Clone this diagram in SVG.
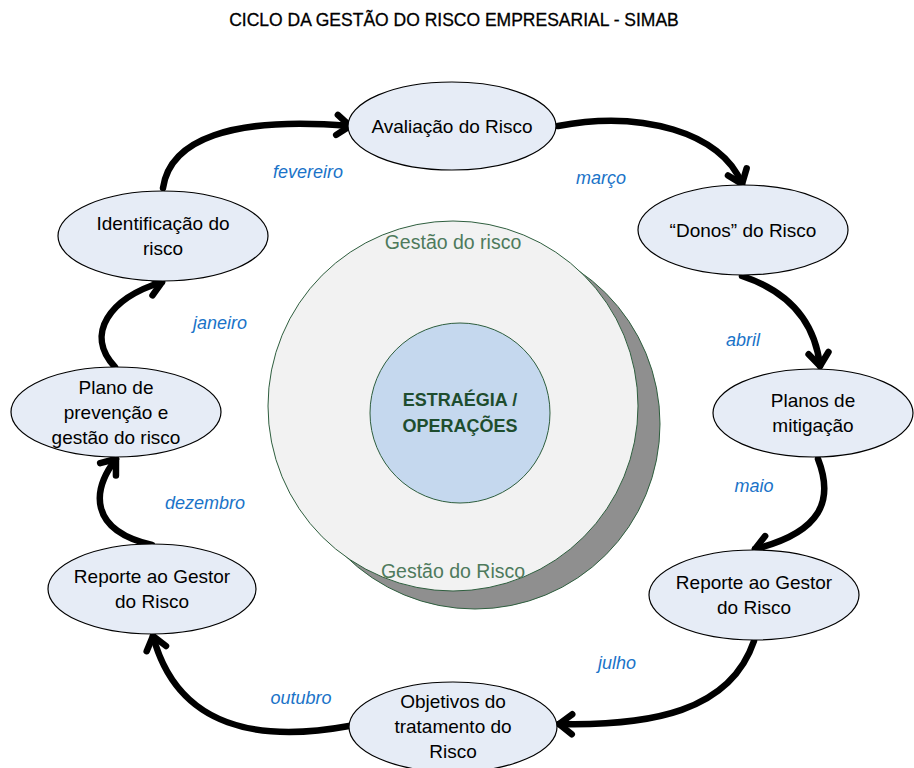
<svg xmlns="http://www.w3.org/2000/svg" width="914" height="768" viewBox="0 0 914 768">
<style>
.node ellipse{fill:#E6ECF6;stroke:#000;stroke-width:1.2}
.node text{font-family:"Liberation Sans",Arial,sans-serif;font-size:19px;fill:#000;text-anchor:middle}
.month{font-family:"Liberation Sans",Arial,sans-serif;font-size:18px;font-style:italic;fill:#1A73C8;text-anchor:middle}
.conn path{fill:none;stroke:#000;stroke-width:6.5;stroke-linecap:round;marker-end:url(#arrow)}
.ring{font-family:"Liberation Sans",Arial,sans-serif;font-size:19.5px;fill:#4E7A5C;text-anchor:middle}
</style>
<defs>
<marker id="arrow" markerUnits="userSpaceOnUse" viewBox="-20 -14 26 28" refX="0" refY="0" markerWidth="26" markerHeight="28" orient="auto">
<path d="M-13,-10 L0,0 L-13,10" fill="none" stroke="#000" stroke-width="6.5" stroke-linecap="round" stroke-linejoin="round"/>
</marker>
</defs>
<rect width="914" height="768" fill="#fff"/>
<text x="454" y="26" font-family="Liberation Sans,Arial,sans-serif" font-size="17.5" text-anchor="middle" fill="#000" stroke="#000" stroke-width="0.3">CICLO DA GESTÃO DO RISCO EMPRESARIAL - SIMAB</text>

<g id="center">
<circle cx="475" cy="424" r="185" fill="#8F8F8F" stroke="#2E5E3E" stroke-width="1"/>
<circle cx="453" cy="406" r="185" fill="#F2F2F2" stroke="#2E5E3E" stroke-width="1"/>
<text class="ring" x="453" y="249">Gestão do risco</text>
<text class="ring" x="453" y="578">Gestão do Risco</text>
<circle cx="460" cy="413" r="90" fill="#C5D8EE" stroke="#2E5E3E" stroke-width="1"/>
<text x="460" y="406" font-family="Liberation Sans,Arial,sans-serif" font-size="18" font-weight="bold" fill="#1E4D2E" text-anchor="middle">ESTRAÉGIA /</text>
<text x="460" y="432" font-family="Liberation Sans,Arial,sans-serif" font-size="18" font-weight="bold" fill="#1E4D2E" text-anchor="middle">OPERAÇÕES</text>
</g>

<g class="conn" id="connectors">
<path d="M163,188 C170,140 230,116 350,126"/>
<path d="M558,126 C640,110 722,132 742,184"/>
<path d="M742,276 C790,292 815,322 820,366"/>
<path d="M818,459 C834,500 822,532 755,549"/>
<path d="M754,641 C730,712 650,726 559,724"/>
<path d="M349,726 C262,742 178,730 153,636"/>
<path d="M152,545 C88,530 92,490 116,459"/>
<path d="M115,367 C84,334 110,298 162,282"/>
</g>

<g class="node" id="n-avaliacao"><ellipse cx="452" cy="126" rx="104" ry="44"/><text x="452" y="133">Avaliação do Risco</text></g>
<g class="node" id="n-donos"><ellipse cx="743" cy="230" rx="105" ry="45"/><text x="743" y="237">“Donos” do Risco</text></g>
<g class="node" id="n-planos"><ellipse cx="813" cy="413" rx="100" ry="44"/><text x="813" y="407">Planos de</text><text x="813" y="432">mitigação</text></g>
<g class="node" id="n-reporte-dir"><ellipse cx="754" cy="595" rx="105" ry="45"/><text x="754" y="589">Reporte ao Gestor</text><text x="754" y="614">do Risco</text></g>
<g class="node" id="n-objetivos"><ellipse cx="453" cy="727" rx="104" ry="45"/><text x="453" y="708">Objetivos do</text><text x="453" y="733">tratamento do</text><text x="453" y="758">Risco</text></g>
<g class="node" id="n-reporte-esq"><ellipse cx="152" cy="589" rx="104" ry="45"/><text x="152" y="583">Reporte ao Gestor</text><text x="152" y="608">do Risco</text></g>
<g class="node" id="n-plano"><ellipse cx="116" cy="412" rx="105" ry="45"/><text x="116" y="394">Plano de</text><text x="116" y="419">prevenção e</text><text x="116" y="444">gestão do risco</text></g>
<g class="node" id="n-identificacao"><ellipse cx="163" cy="236" rx="105" ry="45"/><text x="163" y="230">Identificação do</text><text x="163" y="255">risco</text></g>

<g id="months">
<text class="month" x="308" y="178">fevereiro</text>
<text class="month" x="601" y="184">março</text>
<text class="month" x="743" y="346">abril</text>
<text class="month" x="754" y="492">maio</text>
<text class="month" x="617" y="669">julho</text>
<text class="month" x="301" y="704">outubro</text>
<text class="month" x="205" y="509">dezembro</text>
<text class="month" x="220" y="329">janeiro</text>
</g>
</svg>
